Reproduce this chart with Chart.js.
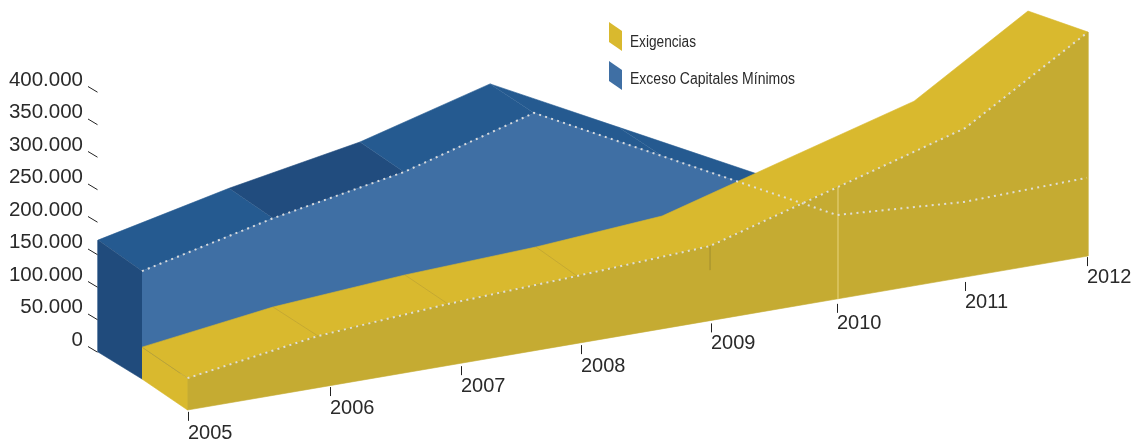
<!DOCTYPE html>
<html>
<head>
<meta charset="utf-8">
<style>html,body{margin:0;padding:0;background:#fff}canvas{display:block}</style>
<script src="https://cdn.jsdelivr.net/npm/chart.js@4"></script>
</head>
<body>
<canvas id="c" width="1136" height="443"></canvas>
<script>
const years = [2005, 2006, 2007, 2008, 2009, 2010, 2011, 2012];
const exigencias = [49000, 79500, 94600, 103700, 114800, 172000, 229000, 344600];
const excesoCapitales = [166000, 216000, 253000, 310000, 207000, 85000, 74000, 88000];
const yTickValues = [0, 50000, 100000, 150000, 200000, 250000, 300000, 350000, 400000];
const seriesNames = ['Exigencias', 'Exceso Capitales Mínimos'];

function buildChart() {
  // oblique projection of the picture
  const PX_X = 128.64, PX_V = 0.00065, X0 = 187.5, ZERO_Y = 340, BASE0 = 410, BASE_SLOPE = 0.171;
  const nudge = [0, 1.9, 3.2, 3.6, 8, 7.3, 5.7, 0];
  const tickNudge = [0, 14, 16, 7.6, 9, 6.3, 5.7, -1];
  const tickGap = [2, 1.5, 3, 2.5, 3, 5, 5, 1];
  const labelGap = [21.5, 21.5, 20.5, 21, 20.5, 19.5, 21, 20];
  const yDepthX = [45.5, 45, 43, 41, 48, 50, 51, 60];
  const yDepthY = [31, 29, 29, 29, 30, 28.5, 27, 21];
  const bPlaneX = [45.5, 45, 44, 43, 48, 1, 1, 1];
  const bDepthX = 44, bDepthY = [31, 30, 30, 29, 29, 29, 29, 29];
  const C = { yTop: '#D9B92E', yFront: '#C5AB32', bFront: '#3F6FA4', bTop: '#255A90', bDark: '#214C7E', bSide: '#204B7C' };

  const frontX = i => X0 + i * PX_X + nudge[i];
  const baseY = X => BASE0 - (X - X0) * BASE_SLOPE;
  const pt = (i, v, dx, dy) => {
    const fx = frontX(i);
    return { x: years[0] + (fx - dx - X0) / PX_X, y: (ZERO_Y - (baseY(fx) - dy - v * PX_V)) / PX_V };
  };
  const idx = years.map((_, i) => i);
  const yF = i => pt(i, exigencias[i], 0, 0);
  const yB = i => pt(i, exigencias[i], yDepthX[i], yDepthY[i]);
  const bF = i => pt(i, excesoCapitales[i], bPlaneX[i], yDepthY[i]);
  const bB = i => pt(i, excesoCapitales[i], bPlaneX[i] + bDepthX, yDepthY[i] + bDepthY[i]);

  const face = (label, data, color) => ({
    label, data, showLine: true, fill: 'shape', backgroundColor: color, borderColor: color,
    borderWidth: 0.6, pointRadius: 0, clip: false, tension: 0
  });
  const stroke = (label, data, color, width, dash) => ({
    label, data, showLine: true, fill: false, borderColor: color, borderWidth: width,
    borderDash: dash || [], pointRadius: 0, clip: false, tension: 0
  });

  const list = [];
  idx.slice(0, -1).forEach(i => {
    list.push(face('top ' + years[i], [bB(i), bB(i + 1), bF(i + 1), bF(i)], i === 1 ? C.bDark : C.bTop));
  });
  list.push(face(seriesNames[1], [...idx.map(bF), ...idx.slice().reverse().map(i => pt(i, 0, bPlaneX[i], yDepthY[i]))], C.bFront));
  list.push(face('side', [bF(0), bB(0), pt(0, 0, bPlaneX[0] + bDepthX, yDepthY[0] + 27), pt(0, 0, bPlaneX[0], yDepthY[0])], C.bSide));
  list.push(face('top', [...idx.map(yB), ...idx.slice().reverse().map(yF)], C.yTop));
  list.push(face('left', [yB(0), yF(0), pt(0, 0, 0, 0), pt(0, 0, yDepthX[0], yDepthY[0])], C.yTop));
  list.push(face(seriesNames[0], [...idx.map(yF), ...idx.slice().reverse().map(i => pt(i, 0, 0, 0))], C.yFront));
  [0, 1, 2, 3].forEach(i => list.push(stroke('seam', [yB(i), yF(i)], 'rgba(130,115,60,0.4)', 0.6)));
  list.push(stroke('seam', [yF(4), pt(4, exigencias[4] - 37000, 0, 0)], 'rgba(140,125,50,0.3)', 0.7));
  list.push(stroke('seam', [yF(5), pt(5, 0, 0, 0)], 'rgba(225,205,110,0.6)', 1));
  list.push(stroke('bLine', idx.map(bF), 'rgba(226,226,226,0.95)', 2, [2, 4.3]));
  list.push(stroke('yLine', idx.map(yF), 'rgba(226,226,226,0.95)', 2, [2, 4.3]));
  list.forEach((d, n) => { d.order = -n; });

  const FONT = '20px "Liberation Sans", Arial, sans-serif';
  const INK = '#2a2a2a';
  const overlay = {
    id: 'overlay',
    afterDraw(chart) {
      const ctx = chart.ctx, sy = chart.scales.y;
      ctx.save();
      ctx.strokeStyle = '#222';
      ctx.lineWidth = 1;
      yTickValues.forEach(v => {
        const p = sy.getPixelForValue(v);
        ctx.beginPath(); ctx.moveTo(88, p + 6.5); ctx.lineTo(97.5, p + 12.2); ctx.stroke();
      });
      ctx.fillStyle = INK;
      ctx.font = FONT;
      ctx.textAlign = 'left';
      ctx.textBaseline = 'middle';
      years.forEach((yr, i) => {
        const px = Math.round(X0 + i * PX_X + tickNudge[i]) + 0.5;
        const top = baseY(px) + tickGap[i];
        ctx.beginPath(); ctx.moveTo(px, top); ctx.lineTo(px, top + 9); ctx.stroke();
        ctx.fillText(String(yr), px - 0.5, top + labelGap[i]);
      });
      const swatch = (top, color) => {
        ctx.fillStyle = color;
        ctx.beginPath(); ctx.moveTo(609, top); ctx.lineTo(622, top + 9); ctx.lineTo(622, top + 29); ctx.lineTo(609, top + 20);
        ctx.closePath(); ctx.fill();
      };
      swatch(22, C.yTop);
      swatch(61, C.bFront);
      ctx.fillStyle = INK;
      ctx.font = '16px "Liberation Sans", sans-serif';
      ctx.fillText(seriesNames[0], 630, 42.5, 66);
      ctx.fillText(seriesNames[1], 630, 80, 165);
      ctx.restore();
    }
  };

  return new Chart(document.getElementById('c'), {
    type: 'scatter',
    data: { datasets: list },
    plugins: [overlay],
    options: {
      responsive: false,
      animation: false,
      layout: { padding: 0 },
      plugins: { legend: { display: false }, tooltip: { enabled: false } },
      events: [],
      scales: {
        x: {
          type: 'linear', display: false,
          min: years[0] - (X0 - 84) / PX_X,
          max: years[0] + (1136 - X0) / PX_X
        },
        y: {
          type: 'linear', position: 'left',
          min: -(443 - ZERO_Y) / PX_V,
          max: ZERO_Y / PX_V,
          afterFit: s => { s.width = 84; s.paddingTop = 0; s.paddingBottom = 0; },
          afterBuildTicks: s => { s.ticks = yTickValues.map(value => ({ value })); },
          border: { display: false },
          grid: { display: false, drawTicks: false },
          ticks: {
            autoSkip: false, padding: 1, color: INK,
            font: { family: '"Liberation Sans", Arial, sans-serif', size: 20.5 },
            callback: v => String(v).replace(/\B(?=(\d{3})+$)/g, '.')
          }
        }
      }
    }
  });
}
buildChart();
</script>
</body>
</html>
